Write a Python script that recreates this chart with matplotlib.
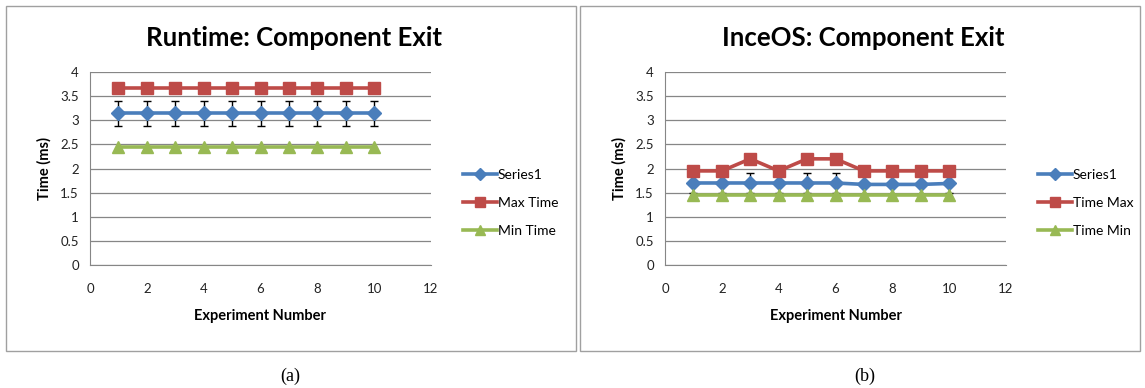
import matplotlib
matplotlib.use("Agg")
import matplotlib.pyplot as plt
from matplotlib.patches import Rectangle

# 데이터
experiments = [1, 2, 3, 4, 5, 6, 7, 8, 9, 10]

runtime_series1 = [3.14, 3.14, 3.14, 3.14, 3.14, 3.14, 3.14, 3.14, 3.14, 3.14]
runtime_err = [0.26, 0.26, 0.26, 0.26, 0.26, 0.26, 0.26, 0.26, 0.26, 0.26]
runtime_max = [3.67, 3.67, 3.67, 3.67, 3.67, 3.67, 3.67, 3.67, 3.67, 3.67]
runtime_min = [2.44, 2.44, 2.44, 2.44, 2.44, 2.44, 2.44, 2.44, 2.44, 2.44]

inceos_series1 = [1.70, 1.70, 1.70, 1.70, 1.70, 1.70, 1.67, 1.67, 1.67, 1.69]
inceos_err = [0.2, 0.2, 0.2, 0.2, 0.2, 0.2, 0.2, 0.2, 0.2, 0.2]
inceos_max = [1.95, 1.95, 2.20, 1.95, 2.20, 2.20, 1.95, 1.95, 1.95, 1.95]
inceos_min = [1.45, 1.45, 1.45, 1.45, 1.45, 1.45, 1.45, 1.45, 1.45, 1.45]

y_ticks = [0, 0.5, 1, 1.5, 2, 2.5, 3, 3.5, 4]
y_tick_labels = ['0', '0.5', '1', '1.5', '2', '2.5', '3', '3.5', '4']
x_ticks = [0, 2, 4, 6, 8, 10, 12]

BLUE = '#4a7ebb'
RED = '#be4b48'
GREEN = '#98b954'
GRID = '#868686'

plt.rcParams['font.family'] = ['Lato', 'DejaVu Sans']

W, H = 1145, 388
fig = plt.figure(figsize=(W / 100, H / 100), dpi=100)


def draw_panel(left_px, title, s1, err, mx, mn, labels, caption, frame):
    # 바깥 테두리
    fx0, fx1 = frame
    fig.patches.append(Rectangle((fx0 / W, 1 - 351 / H), (fx1 - fx0) / W, 345 / H,
                                 transform=fig.transFigure, fill=False,
                                 edgecolor='#a0a0a0', linewidth=1.0))

    ax = fig.add_axes([left_px / W, 1 - 265 / H, 341 / W, 193 / H])
    ax.set_xlim(0, 12)
    ax.set_ylim(0, 4)
    ax.set_xticks(x_ticks)
    ax.set_yticks(y_ticks)
    ax.set_yticklabels(y_tick_labels)
    ax.tick_params(length=0, labelsize=9.5, pad=8, colors='#222222')
    ax.tick_params(axis='x', pad=13)
    ax.grid(axis='y', color=GRID, linewidth=0.9)
    ax.set_axisbelow(True)
    for side in ['top', 'right']:
        ax.spines[side].set_visible(False)
    ax.spines['left'].set_color(GRID)
    ax.spines['bottom'].set_color(GRID)

    ax.errorbar(experiments, s1, yerr=err, fmt='none', ecolor='black',
                elinewidth=1, capsize=3, capthick=1, zorder=2)
    ax.plot(experiments, s1, color=BLUE, lw=2.6, marker='D', ms=7,
            label=labels[0], zorder=3)
    ax.plot(experiments, mx, color=RED, lw=2.6, marker='s', ms=9,
            label=labels[1], zorder=4)
    ax.plot(experiments, mn, color=GREEN, lw=2.6, marker='^', ms=9,
            label=labels[2], zorder=4)

    # 제목은 차트 영역 가운데
    fig.text((fx0 + fx1) / 2 / W + 3 / W, 1 - 38 / H, title, ha='center', va='center',
             fontsize=18.5, fontweight='bold')
    ax.set_xlabel('Experiment Number', fontsize=10.5, fontweight='bold', labelpad=10)
    ax.set_ylabel('Time (ms)', fontsize=10.5, fontweight='bold', labelpad=6)

    leg = ax.legend(loc='center left', bbox_to_anchor=(1.094, 0.32), frameon=False,
                    fontsize=10, handlelength=2.45, handletextpad=0.05,
                    labelspacing=1.15, borderaxespad=0, borderpad=0)
    for h, ms in zip(leg.legend_handles, [6, 7, 7]):
        h.set_markersize(ms)

    fig.text((left_px + 200) / W, 1 - 376 / H, caption, ha='center', va='center',
             fontsize=13, family=['Liberation Serif', 'DejaVu Serif'])


draw_panel(90, 'Runtime: Component Exit', runtime_series1, runtime_err,
           runtime_max, runtime_min, ['Series1', 'Max Time', 'Min Time'],
           '(a)', (6, 576))
draw_panel(665, 'InceOS: Component Exit', inceos_series1, inceos_err,
           inceos_max, inceos_min, ['Series1', 'Time Max', 'Time Min'],
           '(b)', (580, 1140))

fig.savefig('out.png', dpi=100)
